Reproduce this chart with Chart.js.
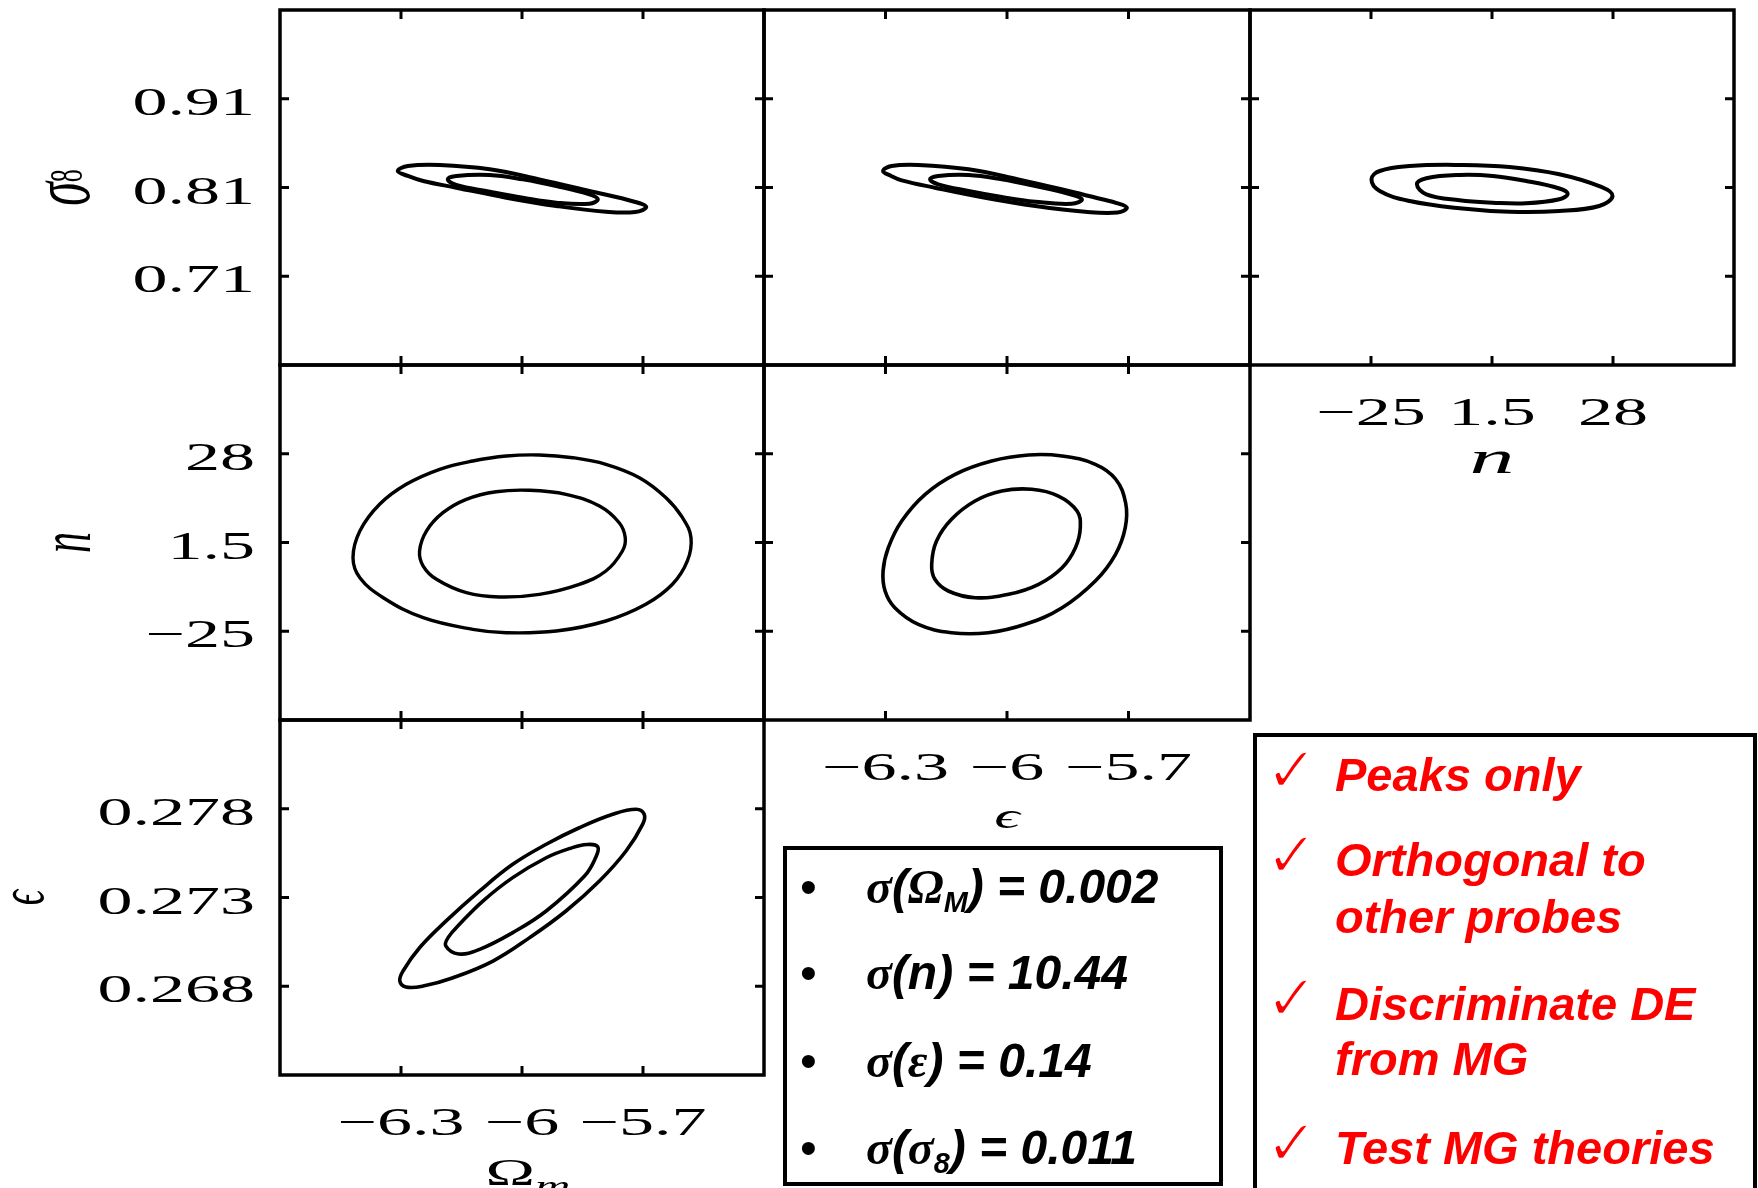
<!DOCTYPE html>
<html>
<head>
<meta charset="utf-8">
<script src="https://cdn.jsdelivr.net/npm/chart.js@4.4.1/dist/chart.umd.min.js"></script>
<style>
  html, body { margin: 0; padding: 0; background: #fff; }
  #stage { position: relative; width: 1758px; height: 1188px; overflow: hidden; background: #fff; }
  #stage canvas { position: absolute; left: 0; top: 0; }
  .frame { position: absolute; border: 4px solid #000; box-sizing: border-box; }
  .line { position: absolute; white-space: nowrap; font-family: "Liberation Sans", Arial, sans-serif;
          font-weight: bold; font-style: italic; }
  .stat { font-size: 48px; line-height: 48px; color: #000; }
  .bullet { font-size: 48px; line-height: 48px; font-style: normal; font-weight: normal; color: #000; }
  .sym { font-family: "Liberation Serif", "DejaVu Serif", serif; font-style: italic; font-weight: bold; }
  .sub { font-size: 0.6em; line-height: 0; vertical-align: -0.3em; }
  .claim { font-size: 47px; line-height: 47px; color: #ff0000; }
  .tick { font-family: "DejaVu Sans", sans-serif; font-size: 64px; line-height: 64px; color: #ff0000;
          font-style: normal; font-weight: normal; -webkit-text-stroke: 2.2px #fff; }
</style>
</head>
<body>
<div id="stage">
  <canvas id="c11" width="1758" height="1188"></canvas>
  <canvas id="c12" width="1758" height="1188"></canvas>
  <canvas id="c13" width="1758" height="1188"></canvas>
  <canvas id="c21" width="1758" height="1188"></canvas>
  <canvas id="c22" width="1758" height="1188"></canvas>
  <canvas id="c31" width="1758" height="1188"></canvas>

  <!-- marginalised errors -->
  <div class="frame" style="left:783px; top:846px; width:440px; height:340px;"></div>
  <div class="line bullet" style="left:800px; top:863px;">•</div>
  <div class="line stat" style="left:866px; top:863px;"><span class="sym">σ</span>(<span class="sym">Ω</span><span class="sub">M</span>) = 0.002</div>
  <div class="line bullet" style="left:800px; top:949px;">•</div>
  <div class="line stat" style="left:866px; top:949px;"><span class="sym">σ</span>(n) = 10.44</div>
  <div class="line bullet" style="left:800px; top:1037px;">•</div>
  <div class="line stat" style="left:866px; top:1037px;"><span class="sym">σ</span>(<span class="sym">ε</span>) = 0.14</div>
  <div class="line bullet" style="left:800px; top:1124px;">•</div>
  <div class="line stat" style="left:866px; top:1124px;"><span class="sym">σ</span>(<span class="sym">σ</span><span class="sub">8</span>) = 0.011</div>

  <!-- what the peak statistics offer -->
  <div class="frame" style="left:1253px; top:733px; width:504px; height:460px;"></div>
  <div class="line tick" style="left:1265px; top:738px;">✓</div>
  <div class="line claim" style="left:1335px; top:751px;">Peaks only</div>
  <div class="line tick" style="left:1265px; top:823px;">✓</div>
  <div class="line claim" style="left:1335px; top:836px;">Orthogonal to</div>
  <div class="line claim" style="left:1335px; top:893px;">other probes</div>
  <div class="line tick" style="left:1265px; top:966px;">✓</div>
  <div class="line claim" style="left:1335px; top:980px;">Discriminate DE</div>
  <div class="line claim" style="left:1335px; top:1035px;">from MG</div>
  <div class="line tick" style="left:1265px; top:1111px;">✓</div>
  <div class="line claim" style="left:1335px; top:1124px;">Test MG theories</div>
</div>

<script>
// ---- axis limits, tick positions and tick texts ----
const omRange   = [-6.6, -5.4];
const epsRange  = [-6.6, -5.4];
const nRange    = [-51.5, 54.5];
const s8Range   = [0.61, 1.01];
const epsYRange = [0.263, 0.283];

const omTicks   = [-6.3, -6, -5.7];
const omLabels  = ['\u22126.3', '\u22126', '\u22125.7'];
const epsTicks  = [-6.3, -6, -5.7];
const epsLabels = ['\u22126.3', '\u22126', '\u22125.7'];
const nTicks    = [-25, 1.5, 28];
const nLabels   = ['\u221225', '1.5', '28'];
const s8Ticks   = [0.71, 0.81, 0.91];
const s8Labels  = ['0.71', '0.81', '0.91'];
const epsYTicks  = [0.268, 0.273, 0.278];
const epsYLabels = ['0.268', '0.273', '0.278'];

// ---- confidence contours, [x, y] in parameter units (outer = 2 sigma, inner = 1 sigma) ----
const omS8Outer = [[-6.308,0.8286],[-6.283,0.8342],[-6.204,0.8354],[-6.080,0.8305],[-5.957,0.8192],
  [-5.833,0.8061],[-5.719,0.7937],[-5.692,0.7880],[-5.719,0.7824],[-5.792,0.7827],[-5.915,0.7892],
  [-6.039,0.7985],[-6.163,0.8098],[-6.245,0.8173],[-6.283,0.8230]];
const omS8Inner = [[-6.184,0.8192],[-6.163,0.8230],[-6.080,0.8241],[-5.998,0.8192],[-5.915,0.8117],
  [-5.833,0.8023],[-5.812,0.7967],[-5.833,0.7917],[-5.915,0.7929],[-5.998,0.7985],[-6.080,0.8053],
  [-6.163,0.8128]];

const epsS8Outer = [[-6.306,0.8286],[-6.285,0.8342],[-6.219,0.8354],[-6.095,0.8305],[-5.972,0.8192],
  [-5.848,0.8061],[-5.765,0.7967],[-5.729,0.7925],[-5.704,0.7872],[-5.727,0.7818],[-5.807,0.7827],
  [-5.930,0.7892],[-6.054,0.7985],[-6.178,0.8098],[-6.260,0.8181],[-6.286,0.8230]];
const epsS8Inner = [[-6.190,0.8192],[-6.170,0.8230],[-6.095,0.8241],[-6.013,0.8192],[-5.930,0.8117],
  [-5.848,0.8030],[-5.815,0.7967],[-5.840,0.7917],[-5.930,0.7940],[-6.013,0.7993],[-6.095,0.8061],
  [-6.170,0.8136]];

const nS8Outer = [[-24.9,0.8192],[-23.09,0.8286],[-16.53,0.8342],[-5.6,0.8354],[5.32,0.8331],
  [16.25,0.8249],[25.43,0.8106],[27.9,0.8004],[24.99,0.7892],[16.25,0.7835],[5.32,0.7827],
  [-5.6,0.7866],[-16.53,0.7948],[-23.09,0.8061]];
const nS8Inner = [[-14.94,0.8136],[-12.88,0.8204],[-5.6,0.8241],[1.67,0.8230],[8.97,0.8173],
  [16.25,0.8089],[18.07,0.8030],[16.25,0.7967],[8.97,0.7922],[1.67,0.7929],[-5.6,0.7956],
  [-12.88,0.8023]];

const omNOuter = [[-6.419,-3.04],[-6.402,4.93],[-6.353,12.91],[-6.287,18.88],[-6.204,23.36],
  [-6.122,25.83],[-6.039,27.33],[-5.957,27.63],[-5.874,26.82],[-5.792,24.85],[-5.709,20.85],
  [-5.643,14.88],[-5.602,8.9],[-5.581,2.93],[-5.590,-4.02],[-5.627,-10.98],[-5.693,-16.95],
  [-5.792,-21.94],[-5.915,-24.93],[-6.039,-25.43],[-6.122,-24.42],[-6.245,-20.96],[-6.344,-14.98],
  [-6.402,-9.01]];
const omNInner = [[-6.254,-1.04],[-6.237,4.93],[-6.196,10.4],[-6.138,14.4],[-6.064,16.67],
  [-5.981,17.09],[-5.891,15.89],[-5.808,12.4],[-5.759,7.41],[-5.744,2.93],[-5.751,-1.04],
  [-5.792,-7.01],[-5.858,-10.98],[-5.957,-13.97],[-6.056,-14.77],[-6.138,-13.49],[-6.212,-9.49],
  [-6.245,-5.52]];

const epsNOuter = [[-6.306,-7.01],[-6.293,-0.05],[-6.260,7.92],[-6.202,15.89],[-6.128,21.86],
  [-6.038,25.83],[-5.947,27.63],[-5.864,27.33],[-5.782,24.85],[-5.732,20.46],[-5.707,13.29],
  [-5.708,5.92],[-5.732,-2.02],[-5.782,-10.0],[-5.864,-17.97],[-5.955,-22.93],[-6.046,-25.43],
  [-6.137,-25.43],[-6.219,-22.93],[-6.277,-17.97],[-6.301,-12.98]];
const epsNInner = [[-6.186,-5.01],[-6.174,1.95],[-6.137,8.43],[-6.079,13.89],[-6.013,16.88],
  [-5.939,17.38],[-5.873,15.38],[-5.827,10.9],[-5.819,5.92],[-5.831,-0.05],[-5.864,-6.03],
  [-5.922,-10.98],[-5.996,-13.97],[-6.079,-14.98],[-6.145,-12.98],[-6.178,-9.49]];

const omEpsOuter = [[-6.303,0.26830],[-6.295,0.26886],[-6.254,0.27017],[-6.188,0.27168],[-6.105,0.27337],
  [-6.023,0.27487],[-5.940,0.27600],[-5.858,0.27693],[-5.775,0.27769],[-5.717,0.27797],[-5.697,0.27769],
  [-5.701,0.27712],[-5.742,0.27562],[-5.808,0.27393],[-5.891,0.27224],[-5.981,0.27074],[-6.072,0.26942],
  [-6.171,0.26848],[-6.245,0.26801],[-6.288,0.26796]];
const omEpsInner = [[-6.189,0.27027],[-6.182,0.27078],[-6.155,0.27149],[-6.097,0.27280],[-6.023,0.27412],
  [-5.940,0.27524],[-5.882,0.27576],[-5.838,0.27599],[-5.812,0.27585],[-5.818,0.27522],[-5.845,0.27421],
  [-5.940,0.27224],[-6.023,0.27102],[-6.105,0.27008],[-6.157,0.26982]];

// ---- drawing ----
const W = 1758, H = 1188;
const SX = 1.75;   // the axis lettering is set wide
const TICK_FONT = '40px "Liberation Serif", "DejaVu Serif", serif';
const TITLE_IT = (px) => 'italic ' + px + 'px "Liberation Serif", "DejaVu Serif", serif';
const TITLE_UP = (px) => px + 'px "Liberation Serif", "DejaVu Serif", serif';

const axes = {
  om:   { range: omRange,   ticks: omTicks,   labels: omLabels },
  eps:  { range: epsRange,  ticks: epsTicks,  labels: epsLabels },
  n:    { range: nRange,    ticks: nTicks,    labels: nLabels },
  s8:   { range: s8Range,   ticks: s8Ticks,   labels: s8Labels },
  epsY: { range: epsYRange, ticks: epsYTicks, labels: epsYLabels },
};

function wideText(ctx, text, x, y, font, align) {
  ctx.save();
  ctx.translate(x, y);
  ctx.scale(SX, 1);
  ctx.font = font;
  ctx.textAlign = align;
  ctx.textBaseline = 'alphabetic';
  ctx.fillText(text, 0, 0);
  ctx.restore();
}

// centred run of differently-styled pieces; optionally turned to read upwards
function richText(ctx, spec) {
  ctx.save();
  ctx.translate(spec.x, spec.y);
  ctx.scale(spec.sx || SX, 1);
  if (spec.rotate) ctx.rotate(-Math.PI / 2);
  ctx.textAlign = 'left';
  ctx.textBaseline = 'alphabetic';
  let total = 0;
  spec.parts.forEach(p => { ctx.font = p.font; p.w = ctx.measureText(p.text).width; total += p.w; });
  let cx = -total / 2;
  spec.parts.forEach(p => {
    ctx.font = p.font;
    ctx.fillText(p.text, cx, (spec.base || 0) + (p.dy || 0));
    cx += p.w;
  });
  ctx.restore();
}

const panelPlugin = {
  id: 'panel',
  afterDraw(chart, args, opts) {
    const { ctx, chartArea: a } = chart;
    const xs = chart.scales.x, ys = chart.scales.y;
    const TL = 9;
    ctx.save();
    ctx.fillStyle = '#000';
    ctx.strokeStyle = '#000';
    ctx.lineWidth = 3.5;
    ctx.strokeRect(a.left, a.top, a.right - a.left, a.bottom - a.top);
    ctx.lineWidth = 3;
    ctx.beginPath();
    opts.xAxis.ticks.forEach(v => {
      const p = xs.getPixelForValue(v);
      ctx.moveTo(p, a.top); ctx.lineTo(p, a.top + TL);
      ctx.moveTo(p, a.bottom); ctx.lineTo(p, a.bottom - TL);
    });
    opts.yAxis.ticks.forEach(v => {
      const p = ys.getPixelForValue(v);
      ctx.moveTo(a.left, p); ctx.lineTo(a.left + TL, p);
      ctx.moveTo(a.right, p); ctx.lineTo(a.right - TL, p);
    });
    ctx.stroke();
    if (opts.xLabels) {
      opts.xAxis.ticks.forEach((v, i) => {
        wideText(ctx, opts.xAxis.labels[i], xs.getPixelForValue(v), a.bottom + 60, TICK_FONT, 'center');
      });
    }
    if (opts.yLabels) {
      opts.yAxis.ticks.forEach((v, i) => {
        wideText(ctx, opts.yAxis.labels[i], a.left - 25, ys.getPixelForValue(v) + 16, TICK_FONT, 'right');
      });
    }
    if (opts.xTitle) {
      const t = opts.xTitle;
      richText(ctx, { x: (a.left + a.right) / 2 + (t.shift || 0), y: a.bottom + t.drop, sx: t.sx, parts: t.parts });
    }
    if (opts.yTitle) {
      const t = opts.yTitle;
      richText(ctx, { x: a.left - t.gap, y: (a.top + a.bottom) / 2, rotate: true, sx: t.sx,
                      base: t.base, parts: t.parts });
    }
    ctx.restore();
  }
};

// a closed contour: the path is padded by one point on each side so the spline
// tangents are right where it closes, and the two padding segments are left unstroked
function contourDataset(points, width) {
  const n = points.length;
  const seq = [points[n - 1], ...points, points[0], points[1]].map(([x, y]) => ({ x, y }));
  const last = seq.length - 2;
  return {
    data: seq,
    showLine: true,
    borderColor: '#000',
    borderWidth: width,
    tension: 0.4,
    pointRadius: 0,
    fill: false,
    borderCapStyle: 'round',
    borderJoinStyle: 'round',
    segment: {
      borderColor: c => (c.p0DataIndex === 0 || c.p0DataIndex === last) ? 'rgba(0,0,0,0)' : undefined
    }
  };
}

const panels = [
  { id: 'c11', box: [280, 10, 764, 365], x: 'om', y: 's8', outer: omS8Outer, inner: omS8Inner, lw: 4,
    yLabels: true,
    yTitle: { gap: 210, base: 11, parts: [{ text: 'σ', font: TITLE_IT(48) }, { text: '8', font: TITLE_UP(26), dy: -4 }] } },
  { id: 'c12', box: [764, 10, 1250, 365], x: 'eps', y: 's8', outer: epsS8Outer, inner: epsS8Inner, lw: 4 },
  { id: 'c13', box: [1250, 10, 1734, 365], x: 'n', y: 's8', outer: nS8Outer, inner: nS8Inner, lw: 4,
    xLabels: true,
    xTitle: { drop: 108, sx: 1.95, parts: [{ text: 'n', font: TITLE_IT(46) }] } },
  { id: 'c21', box: [280, 365, 764, 720], x: 'om', y: 'n', outer: omNOuter, inner: omNInner, lw: 3.4,
    yLabels: true,
    yTitle: { gap: 208, base: 10, parts: [{ text: 'n', font: TITLE_IT(42) }] } },
  { id: 'c22', box: [764, 365, 1250, 720], x: 'eps', y: 'n', outer: epsNOuter, inner: epsNInner, lw: 3.6,
    xLabels: true,
    xTitle: { drop: 108, parts: [{ text: 'ϵ', font: TITLE_IT(36) }] } },
  { id: 'c31', box: [280, 720, 764, 1075], x: 'om', y: 'epsY', outer: omEpsOuter, inner: omEpsInner, lw: 3.6,
    xLabels: true, yLabels: true,
    xTitle: { drop: 110, shift: 6, parts: [{ text: 'Ω', font: TITLE_UP(38) }, { text: 'm', font: TITLE_IT(28), dy: 10 }] },
    yTitle: { gap: 251, base: 8, parts: [{ text: 'ϵ', font: TITLE_IT(38) }] } },
];

panels.forEach(p => {
  const xa = axes[p.x], ya = axes[p.y];
  const [l, t, r, b] = p.box;
  new Chart(document.getElementById(p.id), {
    type: 'scatter',
    data: { datasets: [contourDataset(p.outer, p.lw), contourDataset(p.inner, p.lw)] },
    options: {
      responsive: false,
      animation: false,
      events: [],
      layout: { padding: { left: l, top: t, right: W - r, bottom: H - b } },
      scales: {
        x: { type: 'linear', min: xa.range[0], max: xa.range[1], display: false },
        y: { type: 'linear', min: ya.range[0], max: ya.range[1], display: false }
      },
      plugins: {
        legend: { display: false },
        tooltip: { enabled: false },
        panel: { xAxis: xa, yAxis: ya, xLabels: !!p.xLabels, yLabels: !!p.yLabels,
                 xTitle: p.xTitle, yTitle: p.yTitle }
      }
    },
    plugins: [panelPlugin]
  });
});
</script>
</body>
</html>
